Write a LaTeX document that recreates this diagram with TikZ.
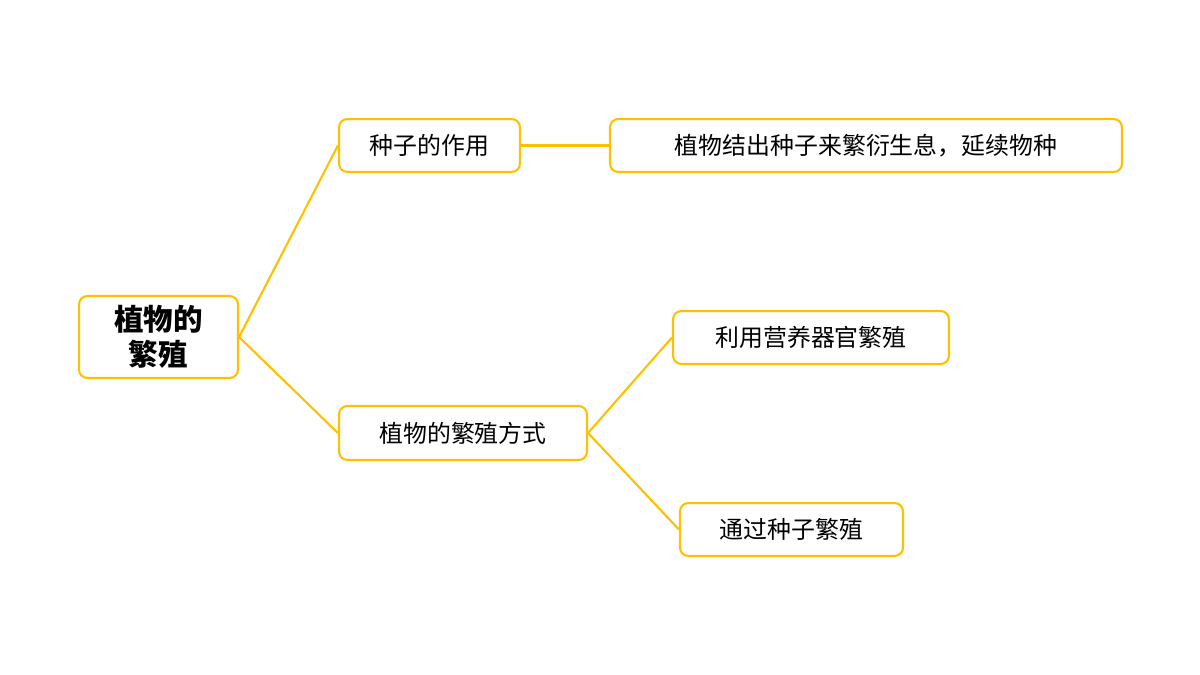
\documentclass[tikz,border=0pt]{standalone}
\usepackage{fontspec}
\newfontfamily\cjk{Noto Sans CJK SC}
\definecolor{mapgold}{HTML}{FFC000}
\tikzset{
  box/.style={draw=mapgold, line width=1.5pt, rounded corners=6pt, fill=white,
    inner sep=0pt, font=\cjk\fontsize{17}{20}\selectfont},
  link/.style={draw=mapgold, line width=1.5pt}
}
\begin{document}
\begin{tikzpicture}[x=0.025cm, y=-0.025cm]

    \useasboundingbox (0,0) rectangle (1200,675);

    \node[box, minimum width=159*0.025cm, minimum height=82*0.025cm, align=center,
      font=\cjk\bfseries\fontsize{21}{25}\selectfont] (root) at (158.5,337) {植物的\\繁殖};

    \node[box, minimum width=181*0.025cm, minimum height=53*0.025cm] (role) at (429.5,145.5) {种子的作用};
    \node[box, minimum width=512*0.025cm, minimum height=53*0.025cm] (roletext) at (866,145.5) {植物结出种子来繁衍生息，延续物种};

    \node[box, minimum width=248*0.025cm, minimum height=54*0.025cm] (ways) at (463,433) {植物的繁殖方式};
    \node[box, minimum width=276*0.025cm, minimum height=53*0.025cm] (organ) at (811,337.5) {利用营养器官繁殖};
    \node[box, minimum width=223*0.025cm, minimum height=53*0.025cm] (seed) at (791.5,529.5) {通过种子繁殖};

    \draw[link] (root.east) -- (role.west);
    \draw[link] (root.east) -- (ways.west);
    \draw[link] (role.east) -- (roletext.west);
    \draw[link] (ways.east) -- (organ.west);
    \draw[link] (ways.east) -- (seed.west);

\end{tikzpicture}
\end{document}
